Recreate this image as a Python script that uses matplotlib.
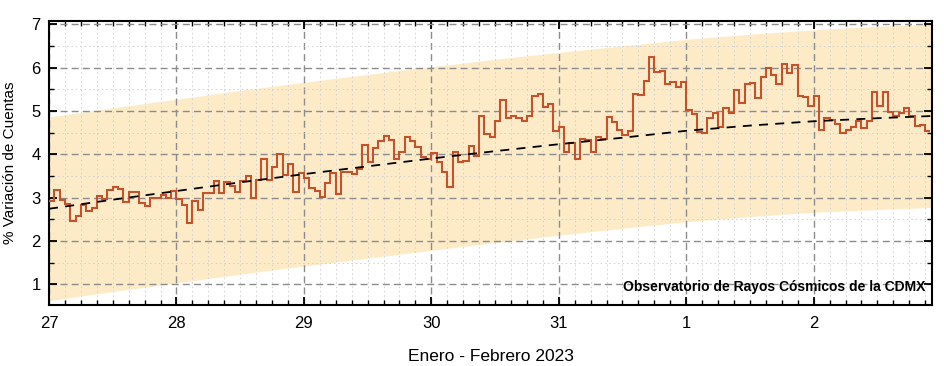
import numpy as np
import matplotlib
matplotlib.use("Agg")
import matplotlib.pyplot as plt
from matplotlib.ticker import MultipleLocator

# ======================== Datos ========================
# variacion horaria (%), desde 27 ene 00h
variacion = [
    2.92, 3.18, 2.95, 2.85, 2.45, 2.58, 2.83, 2.70, 2.75, 3.04, 2.96, 3.18,
    3.24, 3.20, 2.89, 3.12, 3.12, 2.88, 2.81, 3.00, 3.00, 3.06, 2.98, 3.15,
    2.96, 2.83, 2.41, 2.91, 2.71, 3.10, 3.10, 3.39, 3.11, 3.36, 3.27, 3.12,
    3.37, 3.50, 2.99, 3.40, 3.89, 3.40, 3.71, 4.00, 3.52, 3.77, 3.12, 3.56,
    3.46, 3.21, 3.16, 3.02, 3.34, 3.57, 3.08, 3.58, 3.58, 3.54, 3.66, 4.21,
    3.83, 4.14, 4.31, 4.42, 4.33, 3.90, 4.04, 4.40, 4.30, 4.16, 3.93, 3.88,
    4.02, 3.83, 3.60, 3.25, 4.06, 3.81, 3.85, 4.19, 3.96, 4.87, 4.47, 4.40,
    4.77, 5.25, 4.83, 4.88, 4.83, 4.77, 4.87, 5.35, 5.39, 5.08, 5.15, 4.53,
    4.63, 4.06, 4.25, 3.88, 4.34, 4.33, 4.04, 4.40, 4.34, 4.85, 4.75, 4.56,
    4.44, 4.54, 5.40, 5.36, 5.69, 6.25, 5.90, 5.92, 5.63, 5.67, 5.56, 5.67,
    5.02, 4.93, 4.52, 4.50, 4.83, 4.94, 4.62, 5.06, 4.95, 5.49, 5.18, 5.63,
    5.65, 5.30, 5.77, 5.98, 5.82, 5.63, 6.09, 5.88, 6.05, 5.34, 5.33, 5.12,
    5.34, 4.56, 4.83, 4.80, 4.70, 4.49, 4.55, 4.63, 4.77, 4.60, 4.77, 5.44,
    5.12, 5.44, 4.98, 4.87, 4.94, 5.06, 4.88, 4.64, 4.68, 4.53,
]

# tendencia y banda (leidas cada 12 h)
horas_tend = [0, 12, 24, 36, 48, 60, 72, 84, 96, 108, 120, 132, 144, 156, 166]
tendencia = [2.74, 2.95, 3.15, 3.35, 3.54, 3.72, 3.90, 4.07, 4.23, 4.38,
             4.54, 4.66, 4.76, 4.83, 4.88]
banda_sup = [4.86, 5.07, 5.27, 5.47, 5.66, 5.84, 6.02, 6.19, 6.35, 6.50,
             6.65, 6.77, 6.87, 6.95, 7.00]
banda_inf = [0.62, 0.83, 1.03, 1.23, 1.42, 1.60, 1.78, 1.96, 2.13, 2.29,
             2.44, 2.56, 2.66, 2.72, 2.77]

dias = ["27", "28", "29", "30", "31", "1", "2"]

# ======================== Figura ========================
plt.rcParams['font.family'] = ['Liberation Sans', 'DejaVu Sans']

fig = plt.figure(figsize=(9.45, 3.66), dpi=100)
ax = fig.add_axes([0.0519, 0.1667, 0.9344, 0.7767])

bordes = np.arange(len(variacion) + 1)

ax.fill_between(horas_tend, banda_inf, banda_sup, color='#FDEBC8', lw=0, zorder=1)
ax.stairs(variacion, bordes, baseline=None, color='#C4532B', lw=1.5, zorder=3)
ax.plot(horas_tend, tendencia, color='black', ls=(0, (5, 4)), lw=1.3, zorder=4)

ax.set_xlim(0, 166.3)
ax.set_ylim(0.52, 7.08)

ax.xaxis.set_minor_locator(MultipleLocator(3))
ax.set_xticks(np.arange(0, 24 * len(dias), 24))
ax.set_xticklabels(dias)
ax.yaxis.set_minor_locator(MultipleLocator(0.5))
ax.set_yticks(range(1, 8))
ax.set_yticklabels([str(v) for v in range(1, 8)])

ax.set_axisbelow('line')
ax.grid(which='major', color='#8c8c8c', ls=(0, (5, 3)), lw=1.0)
ax.grid(which='minor', color='#d0d0d0', ls=(0, (1.5, 3)), lw=0.7)

ax.tick_params(which='both', direction='in', top=True, right=True, labelsize=12)
ax.tick_params(which='major', length=6, width=1.3)
ax.tick_params(which='minor', length=3.5, width=1.0)
ax.tick_params(axis='x', pad=8)
ax.tick_params(axis='y', pad=6)
for s in ax.spines.values():
    s.set_linewidth(1.5)

ax.set_xlabel("Enero - Febrero 2023", fontsize=12.5, labelpad=13)
ax.set_ylabel("% Variación de Cuentas", fontsize=11, labelpad=10)

ax.text(0.992, 0.063, "Observatorio de Rayos Cósmicos de la CDMX",
        transform=ax.transAxes, ha='right', va='center',
        fontsize=10, fontweight='bold', zorder=5)

fig.savefig("out.png", dpi=100)
